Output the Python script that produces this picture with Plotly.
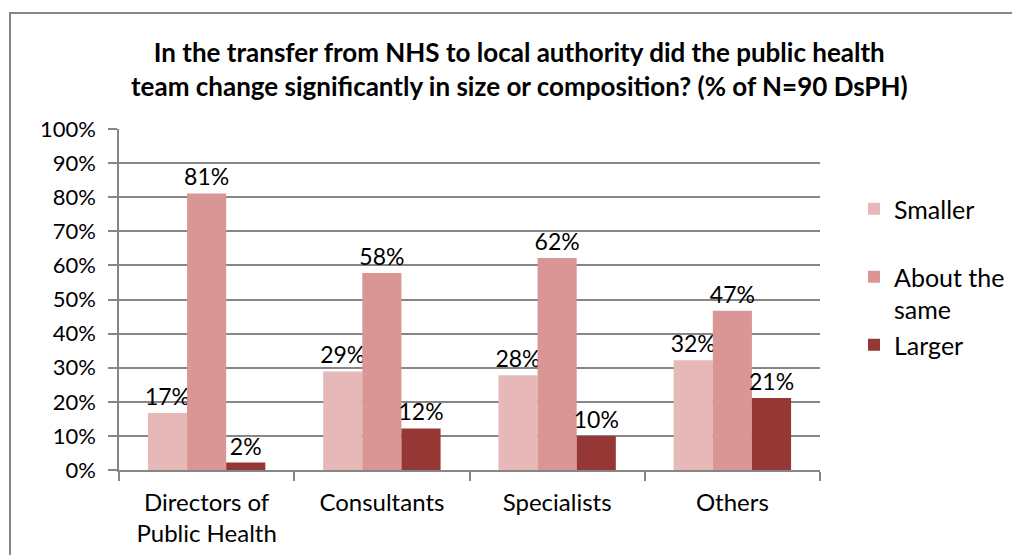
import plotly.graph_objects as go

categories = ["Directors of<br>Public Health", "Consultants", "Specialists", "Others"]
legend_labels = ["Smaller<br> ", "About the<br>same", "Larger"]
smaller = [16.7, 28.9, 27.8, 32.2]
about_same = [81.1, 57.8, 62.2, 46.7]
larger = [2.2, 12.2, 10.0, 21.1]
colors = ["#E6B9B8", "#D99694", "#953735"]
title_text = ("<b>In the transfer from NHS to local authority did the public health<br>"
              "team change significantly in size or composition? (% of N=90 DsPH)</b>")

FONT = "Lato"
OFF = 8  # default page body margin
W, H = 1020 - 2 * OFF, 555 - OFF
ML, MR, MT, MB = 111, 192, 121, 85
PW = W - ML - MR
PH = H - MT - MB

def px_x(page_px):
    return (page_px - OFF - ML) / PW

def px_y(page_py):
    return (H - MB - (page_py - OFF)) / PH

fig = go.Figure()
for name, vals, col in zip(legend_labels, [smaller, about_same, larger], colors):
    fig.add_trace(go.Bar(
        x=categories, y=vals, name=name,
        marker=dict(color=col, line=dict(width=0)),
        text=[f"{round(v)}%" for v in vals],
        textposition="outside",
        textfont=dict(family=FONT, size=23, color="#000000"),
        constraintext="none",
        cliponaxis=False,
    ))

fig.update_layout(
    width=W, height=H,
    margin=dict(l=ML, r=MR, t=MT, b=MB, autoexpand=False),
    paper_bgcolor="white", plot_bgcolor="white",
    barmode="group", bargap=0.33, bargroupgap=0,
    font=dict(family=FONT, size=22, color="#000000"),
    showlegend=True,
    legend=dict(
        x=px_x(854), y=px_y(186), xanchor="left", yanchor="top",
        font=dict(family=FONT, size=25, color="#000000"),
        valign="top", tracegroupgap=0, bgcolor="rgba(0,0,0,0)",
    ),
    xaxis=dict(
        type="category", showgrid=False, showline=True, linecolor="#868686", linewidth=1.5,
        ticks="outside", tickson="boundaries", ticklen=9, tickcolor="#868686", tickwidth=1.5,
        tickfont=dict(family=FONT, size=24, color="#000000"), ticklabelstandoff=10,
    ),
    yaxis=dict(
        range=[0, 100], dtick=10, ticksuffix="%", showgrid=True, gridcolor="#868686",
        gridwidth=1.5, showline=True, linecolor="#868686", linewidth=1.5,
        ticks="outside", ticklen=9, tickcolor="#868686", tickwidth=1.5,
        tickfont=dict(family=FONT, size=22, color="#000000"), zeroline=False,
        ticklabelstandoff=8,
    ),
    shapes=[dict(
        type="rect", xref="paper", yref="paper",
        x0=px_x(10), x1=px_x(1060), y0=px_y(13), y1=px_y(600),
        line=dict(color="#868686", width=2), fillcolor="rgba(0,0,0,0)", layer="below",
    )],
    annotations=[dict(
        text=title_text, xref="paper", yref="paper",
        x=px_x(519), y=px_y(69), xanchor="center", yanchor="middle",
        showarrow=False, align="center",
        font=dict(family=FONT, size=26, color="#000000"),
    )],
)

fig.write_html("out.html")
